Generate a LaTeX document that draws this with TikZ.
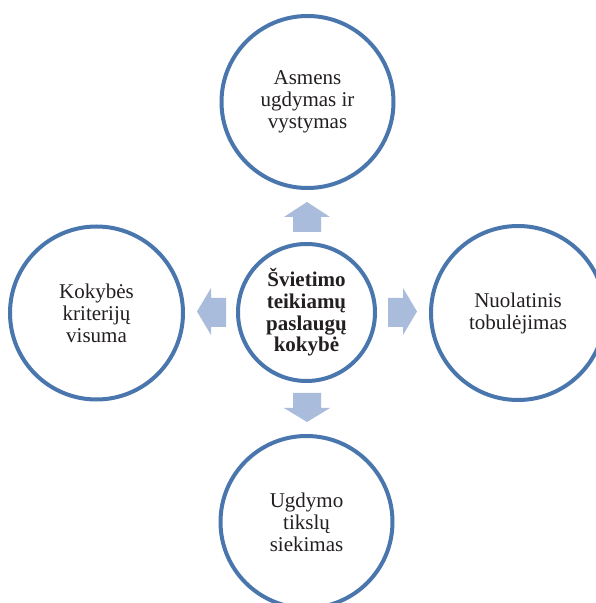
\documentclass[tikz,border=0pt]{standalone}
\usepackage{fontspec}
\setmainfont{Liberation Serif}
\definecolor{ringblue}{HTML}{4A76AE}
\definecolor{arrowblue}{HTML}{AABCDB}
\definecolor{txt}{HTML}{231F20}
\begin{document}
\begin{tikzpicture}[x=1pt,y=1pt,
  ring/.style={circle,draw=ringblue,line width=4pt,fill=white,inner sep=0pt,align=center,text=txt,
    font=\fontsize{21}{22}\selectfont},
  arr/.style={fill=arrowblue,draw=none}]
\useasboundingbox (0,0) rectangle (596,603);
\clip (0,0) rectangle (596,603);
% y_tikz = 603 - y_px
\node[ring,minimum size=137pt,font=\fontsize{21}{21.7}\selectfont\bfseries] (c) at (306.5,290.5) {Švietimo\\teikiamų\\paslaugų\\kokybė};
\node[ring,minimum size=172pt] (t) at (307.5,501) {Asmens\\ugdymas ir\\vystymas};
\node[ring,minimum size=173pt] (l) at (96.5,290) {Kokybės\\kriterijų\\visuma};
\node[ring,minimum size=174pt] (r) at (518,290) {Nuolatinis\\tobulėjimas};
\node[ring,minimum size=172pt] (b) at (306.5,81) {Ugdymo\\tikslų\\siekimas};
% up arrow
\fill[arr] (293,371) -- (293,386) -- (284,386) -- (307,401) -- (330,386) -- (321,386) -- (321,371) -- cycle;
% down arrow
\fill[arr] (293,210) -- (293,195) -- (284,195) -- (307,181) -- (330,195) -- (321,195) -- (321,210) -- cycle;
% left arrow
\fill[arr] (226,305) -- (211,305) -- (211,315) -- (197,291.5) -- (211,268) -- (211,276) -- (226,276) -- cycle;
% right arrow
\fill[arr] (388,305) -- (403,305) -- (403,315) -- (417,291.5) -- (403,268) -- (403,276) -- (388,276) -- cycle;
\end{tikzpicture}
\end{document}
